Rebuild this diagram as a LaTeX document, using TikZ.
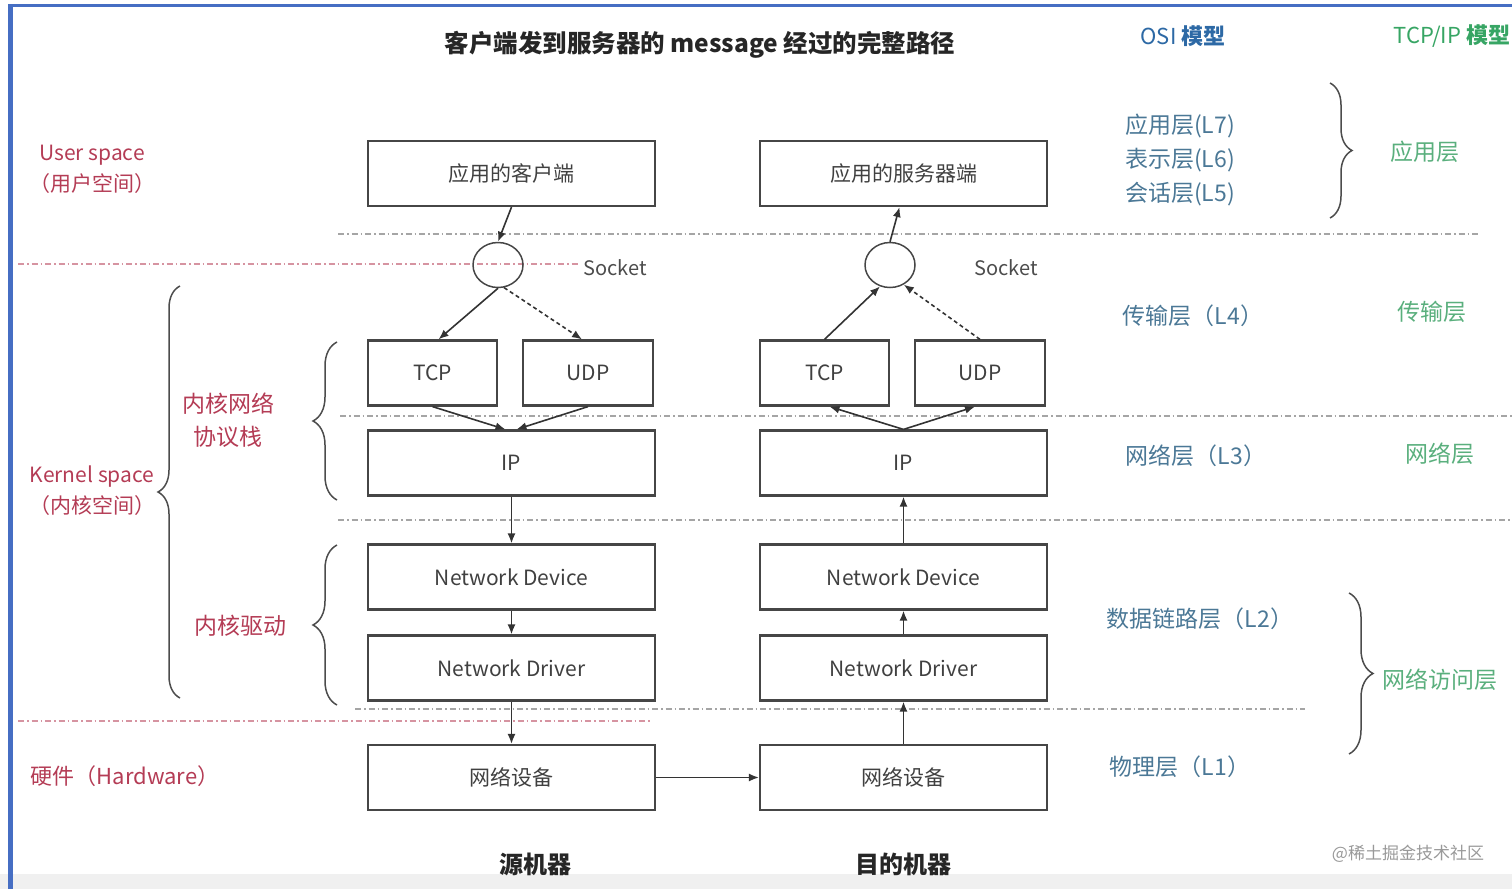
\documentclass[tikz,border=0pt]{standalone}
\usepackage{fontspec}
\setmainfont{Noto Sans CJK SC}
\usetikzlibrary{arrows.meta,shapes.geometric,decorations.pathreplacing}

\definecolor{spacered}{RGB}{180,60,85}
\definecolor{osiblue}{RGB}{75,120,150}
\definecolor{osititle}{RGB}{45,105,165}
\definecolor{ipgreen}{RGB}{90,175,125}
\definecolor{iptitle}{RGB}{55,165,100}
\definecolor{frameblue}{RGB}{70,110,195}
\definecolor{boxline}{RGB}{70,70,70}
\definecolor{sepgray}{RGB}{165,165,165}

\tikzset{
  layerbox/.style={draw=boxline, line width=2.2pt, minimum width=287pt, minimum height=65pt,
    font=\fontsize{21}{24}\selectfont, text=black!75},
  halfbox/.style={layerbox, minimum width=129pt},
  sockring/.style={draw=boxline, line width=1.5pt, ellipse, minimum width=50pt, minimum height=45pt},
  flow/.style={-{Latex[length=10pt,width=8pt]}, line width=1.6pt, draw=black!80},
  dflow/.style={flow, dash pattern=on 4pt off 3pt},
  sepline/.style={draw=sepgray, line width=1.2pt, dash pattern=on 6pt off 3pt on 1.5pt off 3pt},
  redsep/.style={sepline, draw=spacered!55},
  curly/.style={decorate, decoration={brace, amplitude=#1}, line width=1.5pt, draw=black!70},
  curly/.default=20pt,
  spacelbl/.style={text=spacered, font=\fontsize{21}{31}\selectfont, align=center},
  osilbl/.style={text=osiblue, font=\fontsize{23}{34}\selectfont, align=center},
  iplbl/.style={text=ipgreen, font=\fontsize{23}{26}\selectfont},
}

\begin{document}
\begin{tikzpicture}[x=1pt, y=-1pt]

\useasboundingbox (0,0) rectangle (1512,889);

% Cadre
\fill[black!6] (0,874) rectangle (1512,889);
\draw[frameblue, line width=5pt] (10,889) -- (10,6);
\draw[frameblue, line width=3pt] (8,5) -- (1512,5);

% Titres
\node[font=\fontsize{24.5}{28}\selectfont\bfseries, text=black!85] (title) at (700,45) {客户端发到服务器的 message 经过的完整路径};
\node[font=\fontsize{22}{26}\selectfont, text=osititle] (osititle) at (1183,36) {OSI \textbf{模型}};
\node[font=\fontsize{22}{26}\selectfont, text=iptitle, anchor=west] (iptitle) at (1390,36) {TCP/IP \textbf{模型}};

% Lignes de séparation
\draw[sepline] (338,234) -- (1478,234);
\draw[redsep] (18,264) -- (578,264);
\draw[sepline] (340,416) -- (1512,416);
\draw[sepline] (338,520) -- (1512,520);
\draw[sepline] (355,709) -- (1305,709);
\draw[redsep] (18,721) -- (650,721);

% Boîtes : machine source
\node[layerbox] (cli) at (511.5,173.5) {应用的客户端};
\node[sockring] (lsock) at (498,265) {};
\node[halfbox] (ltcp) at (432.5,373) {TCP};
\node[halfbox, minimum width=130pt] (ludp) at (588,373) {UDP};
\node[layerbox] (lip) at (511.5,463) {IP};
\node[layerbox] (lnd) at (511.5,577) {Network Device};
\node[layerbox] (ldr) at (511.5,668) {Network Driver};
\node[layerbox] (lhw) at (511.5,777.5) {网络设备};

% Boîtes : machine destination
\node[layerbox] (srv) at (903.5,173.5) {应用的服务器端};
\node[sockring] (rsock) at (890,265) {};
\node[halfbox] (rtcp) at (824.5,373) {TCP};
\node[halfbox, minimum width=130pt] (rudp) at (980,373) {UDP};
\node[layerbox] (rip) at (903.5,463) {IP};
\node[layerbox] (rnd) at (903.5,577) {Network Device};
\node[layerbox] (rdr) at (903.5,668) {Network Driver};
\node[layerbox] (rhw) at (903.5,777.5) {网络设备};

\node[font=\fontsize{20}{22}\selectfont, text=black!70] (lsocklbl) at (615,268) {Socket};
\node[font=\fontsize{20}{22}\selectfont, text=black!70] (rsocklbl) at (1006,268) {Socket};

% Flèches : descente
\draw[flow] (cli.south) -- (lsock.north);
\draw[flow] (lsock.south) -- ([xshift=6pt]ltcp.north);
\draw[dflow] (lsock.-75) -- ([xshift=-6pt]ludp.north);
\draw[flow] (ltcp.south) -- ([xshift=-6pt]lip.north);
\draw[flow] (ludp.south) -- ([xshift=5pt]lip.north);
\draw[flow] (lip) -- (lnd);
\draw[flow] (lnd) -- (ldr);
\draw[flow] (ldr) -- (lhw);
\draw[flow] (lhw) -- (rhw);

% Flèches : remontée
\draw[flow] (rhw) -- (rdr);
\draw[flow] (rdr) -- (rnd);
\draw[flow] (rnd) -- (rip);
\draw[flow] (rip.north) -- ([xshift=5pt]rtcp.south);
\draw[flow] (rip.north) -- ([xshift=-5pt]rudp.south);
\draw[flow] (rtcp.north) -- (rsock.-115);
\draw[dflow] (rudp.north) -- (rsock.-55);
\draw[flow] (rsock.north) -- ([xshift=-4pt]srv.south);

% Accolades
\draw[curly=22pt] (180,698) -- (180,286);
\draw[curly=24pt] (337,500) -- (337,342);
\draw[curly=24pt] (337,705) -- (337,545);
\draw[curly=22pt] (1330,83) -- (1330,218);
\draw[curly=24pt] (1349,593) -- (1349,754);

% Espaces (gauche)
\node[spacelbl] (user) at (92,169) {User space\\（用户空间）};
\node[spacelbl] (kernel) at (92,491) {Kernel space\\（内核空间）};
\node[spacelbl, font=\fontsize{23}{33}\selectfont] (stack) at (228,420) {内核网络\\协议栈};
\node[spacelbl, font=\fontsize{23}{26}\selectfont] (driver) at (240,626) {内核驱动};
\node[spacelbl, font=\fontsize{22}{26}\selectfont] (hard) at (125,776) {硬件（Hardware）};

% Modèle OSI
\node[osilbl] (l765) at (1180,160) {应用层(L7)\\表示层(L6)\\会话层(L5)};
\node[osilbl] (l4) at (1193,316) {传输层（L4）};
\node[osilbl] (l3) at (1196,456) {网络层（L3）};
\node[osilbl] (l2) at (1200,619) {数据链路层（L2）};
\node[osilbl] (l1) at (1180,767) {物理层（L1）};

% Modèle TCP/IP
\node[iplbl] (app) at (1425,152) {应用层};
\node[iplbl] (trans) at (1432,312) {传输层};
\node[iplbl] (net) at (1440,454) {网络层};
\node[iplbl] (acc) at (1440,680) {网络访问层};

% Machines
\node[font=\fontsize{24}{28}\selectfont\bfseries, text=black!85] (src) at (535,864) {源机器};
\node[font=\fontsize{24}{28}\selectfont\bfseries, text=black!85] (dst) at (903,864) {目的机器};
\node[font=\fontsize{17}{20}\selectfont, text=black!40] (mark) at (1408,854) {@稀土掘金技术社区};

\end{tikzpicture}
\end{document}
